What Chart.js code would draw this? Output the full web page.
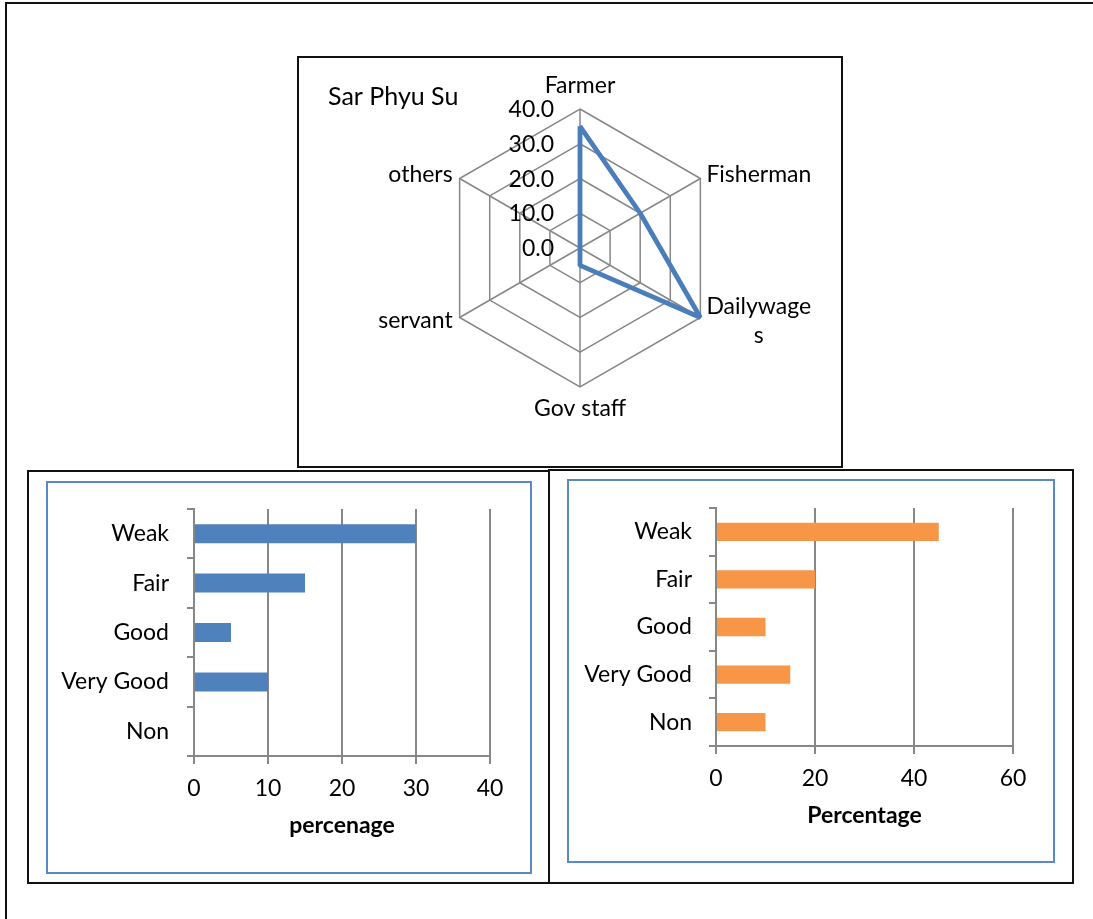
<!DOCTYPE html>
<html>
<head>
<meta charset="utf-8">
<title>Occupation and rating charts</title>
<script src="https://cdn.jsdelivr.net/npm/chart.js@4.4.0/dist/chart.umd.min.js"></script>
<style>
  html, body { margin: 0; padding: 0; background: #fff; }
  body { width: 1093px; height: 919px; position: relative; overflow: hidden; }
  .frame { position: absolute; left: 5px; top: 2px; width: 1200px; height: 1000px;
           border-top: 2px solid #111; border-left: 2px solid #111; }
  .box { position: absolute; border: 2px solid #111; box-sizing: border-box; background: #fff; }
  .inner { position: absolute; border: 2px solid #5a8ac6; box-sizing: border-box; }
  canvas { position: absolute; }
</style>
</head>
<body>
<div class="frame"></div>
<div class="box" style="left:297px;top:56px;width:546px;height:412px"></div>
<div class="box" style="left:27px;top:470px;width:523px;height:414px"></div>
<div class="box" style="left:548px;top:469px;width:526px;height:415px"></div>
<div class="inner" style="left:46px;top:481px;width:486px;height:393px"></div>
<div class="inner" style="left:567px;top:479px;width:488px;height:384px"></div>

<canvas id="radar" width="542" height="408" style="left:299px;top:58px"></canvas>
<canvas id="barLeft" width="480" height="387" style="left:49px;top:484px"></canvas>
<canvas id="barRight" width="482" height="378" style="left:570px;top:482px"></canvas>

<script>
// ---- data ----
const radarTitle = 'Sar Phyu Su';
const occupations = ['Farmer', 'Fisherman', ['Dailywage', 's'], 'Gov staff', 'servant', 'others'];
const occupationShare = [35, 20, 40, 5, 0, 0];
const radarMax = 40;
const radarStep = 10;

const ratingLevels = ['Weak', 'Fair', 'Good', 'Very Good', 'Non'];
const leftShare = [30, 15, 5, 10, 0];
const rightShare = [45, 20, 10, 15, 10];
const leftAxisMax = 40, leftAxisStep = 10;
const rightAxisMax = 60, rightAxisStep = 20;
const leftAxisTitle = 'percenage';
const rightAxisTitle = 'Percentage';

// ---- shared look ----
const FAMILY = 'Lato, "Open Sans", sans-serif';
const FONT_SIZE = 23;
const GRID = '#878787';
const INK = '#000';

// Radar: ring values and axis names are painted here so they can sit
// beside the vertical axis and around the hexagon.
const radarText = {
  id: 'radarText',
  afterDraw(chart) {
    const { ctx } = chart;
    const r = chart.scales.r;
    ctx.save();
    ctx.fillStyle = INK;
    ctx.font = FONT_SIZE + 'px ' + FAMILY;
    ctx.textBaseline = 'alphabetic';

    // ring values, right-aligned left of the top axis
    ctx.textAlign = 'right';
    r.ticks.forEach(t => {
      const y = r.yCenter - r.getDistanceFromCenterForValue(t.value);
      ctx.fillText(t.value.toFixed(1), r.xCenter - 26, y + 8);
    });

    // axis names
    const labels = chart.data.labels;
    labels.forEach((lab, i) => {
      const lines = Array.isArray(lab) ? lab : [lab];
      const p = r.getPointPosition(i, r.drawingArea);
      const dx = p.x - r.xCenter, dy = p.y - r.yCenter;
      const lh = 29;
      if (Math.abs(dx) < 1) {
        ctx.textAlign = 'center';
        const base = dy < 0 ? p.y - 16 - (lines.length - 1) * lh : p.y + 29;
        lines.forEach((s, k) => ctx.fillText(s, p.x, base + k * lh));
      } else {
        const widths = lines.map(s => ctx.measureText(s).width);
        const w = Math.max(...widths);
        const left = dx > 0 ? p.x + 6 : p.x - 7 - w;
        const base0 = (dy < 0 ? p.y + 3.5 : p.y + 10.5) - (lines.length - 1) * 14.5;
        ctx.textAlign = 'center';
        lines.forEach((s, k) => {
          const cx = lines.length > 1 ? left + w / 2 : (dx > 0 ? left + widths[k] / 2 : left + w - widths[k] / 2);
          ctx.fillText(s, cx, base0 + k * lh);
        });
      }
    });

    // chart title
    ctx.font = '25px ' + FAMILY;
    ctx.textAlign = 'left';
    ctx.fillText(radarTitle, 29, 47);
    ctx.restore();
  }
};

new Chart(document.getElementById('radar'), {
  type: 'radar',
  data: {
    labels: occupations,
    datasets: [{
      data: occupationShare,
      borderColor: '#4a7ebb',
      borderWidth: 4.8,
      borderJoinStyle: 'bevel',
      backgroundColor: 'transparent',
      fill: false,
      pointRadius: 0,
      pointHoverRadius: 0,
      tension: 0
    }]
  },
  options: {
    responsive: false,
    animation: false,
    events: [],
    layout: { padding: { left: 142, right: 122, top: 51, bottom: 79 } },
    plugins: { legend: { display: false }, tooltip: { enabled: false } },
    scales: {
      r: {
        min: 0,
        max: radarMax,
        ticks: { stepSize: radarStep, display: false },
        grid: { color: GRID, lineWidth: 1.5 },
        angleLines: { color: GRID, lineWidth: 1.5 },
        pointLabels: { display: false }
      }
    }
  },
  plugins: [radarText]
});

function ratingChart(id, values, color, axisMax, axisStep, title, dims) {
  return new Chart(document.getElementById(id), {
    type: 'bar',
    data: {
      labels: ratingLevels,
      datasets: [{
        data: values,
        backgroundColor: color,
        borderWidth: 0,
        barPercentage: 0.385,
        categoryPercentage: 1
      }]
    },
    options: {
      indexAxis: 'y',
      responsive: false,
      animation: false,
      events: [],
      layout: { padding: { left: 0, right: dims.right, top: dims.top, bottom: 0 } },
      plugins: { legend: { display: false }, tooltip: { enabled: false } },
      scales: {
        x: {
          min: 0,
          max: axisMax,
          ticks: { stepSize: axisStep, color: INK, padding: 11,
                   font: { family: FAMILY, size: FONT_SIZE } },
          grid: { color: GRID, lineWidth: 2, tickLength: 8 },
          border: { color: GRID, width: 2 },
          title: { display: true, text: title, color: INK,
                   font: { family: FAMILY, size: FONT_SIZE, weight: 'bold' },
                   padding: { top: 0, bottom: dims.titlePad } },
          afterFit(scale) {
            scale.height = dims.xHeight;
            scale.paddingLeft = 0;
            scale.paddingRight = 0;
          }
        },
        y: {
          ticks: { color: INK, padding: dims.labelPad,
                   font: { family: FAMILY, size: FONT_SIZE } },
          grid: { color: GRID, lineWidth: 2, tickLength: 7, drawOnChartArea: false },
          border: { color: GRID, width: 2 },
          afterFit(scale) {
            scale.width = dims.yWidth;
            scale.paddingTop = 0;
            scale.paddingBottom = 0;
          }
        }
      }
    }
  });
}

ratingChart('barLeft', leftShare, '#4f81bd', leftAxisMax, leftAxisStep, leftAxisTitle,
  { right: 39, top: 25, xHeight: 115, yWidth: 145, titlePad: 32, labelPad: 18 });
ratingChart('barRight', rightShare, '#f79646', rightAxisMax, rightAxisStep, rightAxisTitle,
  { right: 39, top: 26, xHeight: 114, yWidth: 146, titlePad: 31, labelPad: 17 });
</script>
</body>
</html>
